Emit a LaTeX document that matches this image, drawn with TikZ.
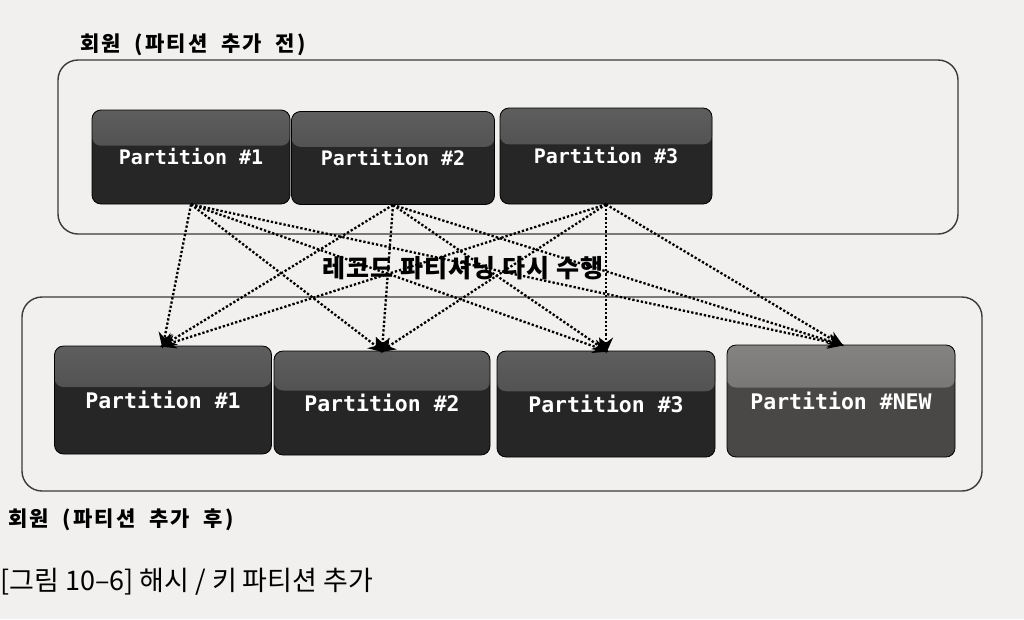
\documentclass[tikz,border=0pt]{standalone}
\usepackage{fontspec}
\newfontfamily\kor{Noto Sans CJK KR}
\newfontfamily\korsp[LetterSpace=10,WordSpace=2]{Noto Sans CJK KR}
\newfontfamily\kormid[LetterSpace=4]{Noto Sans CJK KR}
\newfontfamily\mono{DejaVu Sans Mono}
\usetikzlibrary{calc,arrows.meta}
\definecolor{paper}{HTML}{F1F0EE}
\definecolor{boxdark}{HTML}{262626}
\definecolor{boxtop}{HTML}{5E5E5E}
\definecolor{boxmid}{HTML}{404040}
\definecolor{newdark}{HTML}{4A4846}
\definecolor{newtop}{HTML}{858381}
\definecolor{newmid}{HTML}{686664}
\definecolor{frame}{HTML}{3A3A3A}
\tikzset{
  part/.style={rounded corners=9pt, fill=boxdark, draw=black, line width=0.8pt,
    text=white, font=\mono\bfseries\fontsize{20}{24}\selectfont,
    path picture={\fill[top color=boxtop, bottom color=boxmid] (path picture bounding box.north west) rectangle
      ($(path picture bounding box.north east)!0.38!(path picture bounding box.south east)$);}},
  bigpart/.style={part, font=\mono\bfseries\fontsize{21.5}{25}\selectfont},
  newpart/.style={bigpart, fill=newdark,
    path picture={\fill[top color=newtop, bottom color=newmid] (path picture bounding box.north west) rectangle
      ($(path picture bounding box.north east)!0.38!(path picture bounding box.south east)$);}},
  container/.style={draw=frame, line width=1.4pt, rounded corners=20pt},
  lbl/.style={font=\korsp\bfseries\fontsize{21}{25}\selectfont, text=black, anchor=west, inner sep=0pt},
  rep/.style={draw=black, line width=2.3pt, dotted, -{Stealth[length=16pt,width=14pt]}, shorten >=-3pt}
}
\begin{document}
\begin{tikzpicture}[x=1pt,y=-1pt]
\fill[paper] (0,0) rectangle (1024,619);
\useasboundingbox (0,0) rectangle (1024,619);
% containers
\draw[container] (58,60) rectangle (958,234);
\draw[container] (22,297) rectangle (982,491);
% labels
\node[lbl] (toplbl) at (80,45) {회원 (파티션 추가 전)};
\node[lbl] (botlbl) at (8,520) {회원 (파티션 추가 후)};
\node[font=\kor\fontsize{27}{31}\selectfont, anchor=west, inner sep=0pt] (cap) at (0,582) {[그림 10–6] 해시 / 키 파티션 추가};
% top partitions
\node[part, minimum width=198pt, minimum height=94pt] (tp1) at (191,157) {Partition \#1};
\node[part, minimum width=203pt, minimum height=93pt] (tp2) at (393,158) {Partition \#2};
\node[part, minimum width=212pt, minimum height=96pt] (tp3) at (606,156) {Partition \#3};
% bottom partitions
\node[bigpart, minimum width=217pt, minimum height=108pt] (bp1) at (163,400) {Partition \#1};
\node[bigpart, minimum width=216pt, minimum height=104pt] (bp2) at (382,403) {Partition \#2};
\node[bigpart, minimum width=218pt, minimum height=106pt] (bp3) at (606,404) {Partition \#3};
\node[newpart, minimum width=228pt, minimum height=112pt] (bp4) at (841,401) {Partition \#NEW};
% middle label
\node[font=\kormid\bfseries\fontsize{25}{29}\selectfont, inner sep=1pt] (mid) at (463,268) {레코드 파티셔닝 다시 수행};
% connectors
\foreach \s in {tp1,tp2,tp3}{
  \foreach \t in {bp1,bp2,bp3,bp4}{
    \draw[rep] (\s.south) -- (\t.north);
  }
}
\end{tikzpicture}
\end{document}
